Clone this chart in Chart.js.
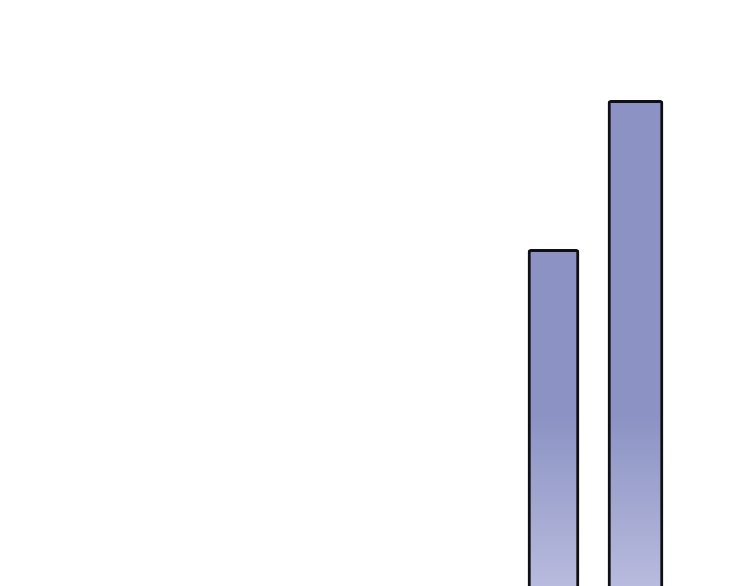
<!DOCTYPE html>
<html>
<head>
<meta charset="utf-8">
<script src="https://cdn.jsdelivr.net/npm/chart.js@4/dist/chart.umd.min.js"></script>
<style>
  html, body { margin: 0; padding: 0; background: #ffffff; overflow: hidden; }
  #wrap { position: relative; width: 750px; height: 597px; }
</style>
</head>
<body>
<div id="wrap"><canvas id="c"></canvas></div>
<script>
const categories = ['A', 'B'];
const values = [70, 100];
const thickness = [51, 55];

function barGradient(context) {
  const chart = context.chart;
  const g = chart.ctx.createLinearGradient(0, 0, 0, 586);
  g.addColorStop(0, '#8c92c3');
  g.addColorStop(0.71, '#8c93c4');
  g.addColorStop(0.85, '#a1a6d0');
  g.addColorStop(1, '#b8bbdd');
  return g;
}

const datasets = values.map((v, i) => ({
  label: categories[i],
  data: categories.map((c, j) => (j === i ? v : null)),
  barThickness: thickness[i],
  grouped: false,
  backgroundColor: barGradient,
  borderColor: '#0f0f14',
  borderWidth: 3,
  borderRadius: 3,
  borderSkipped: 'start'
}));

new Chart(document.getElementById('c'), {
  type: 'bar',
  data: { labels: categories, datasets: datasets },
  options: {
    responsive: true,
    maintainAspectRatio: false,
    animation: false,
    layout: { padding: { top: 1, bottom: 0, left: 512.5, right: 73.5 } },
    plugins: { legend: { display: false }, tooltip: { enabled: false } },
    scales: {
      x: { display: false },
      y: { display: false, min: 0, max: 120 }
    }
  }
});
</script>
</body>
</html>
